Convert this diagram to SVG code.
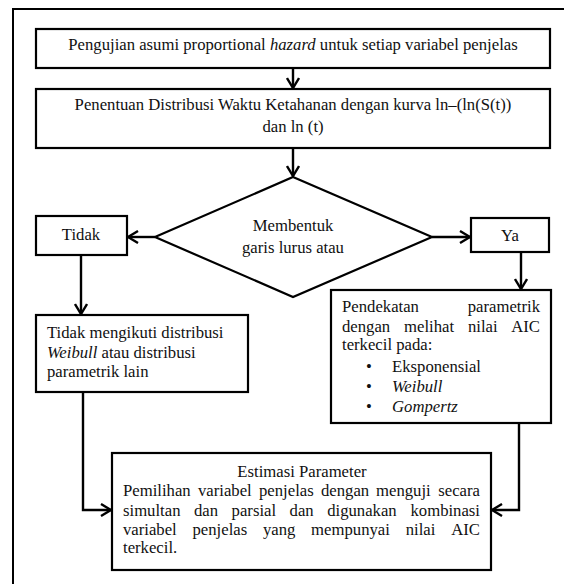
<svg xmlns="http://www.w3.org/2000/svg" width="564" height="584" viewBox="0 0 564 584">
<style>
.box{fill:#fff;stroke:#000;stroke-width:2.2}
.ln{fill:none;stroke:#000;stroke-width:2.4}
text{font-family:"Liberation Serif","Times New Roman",serif;font-size:16.7px;fill:#111}
.c{text-anchor:middle}
.e{text-anchor:end}
.i{font-style:italic}
</style>
<defs>
<marker id="arr" viewBox="0 0 12 14" refX="11" refY="7" markerWidth="12" markerHeight="14" orient="auto" markerUnits="userSpaceOnUse">
<path d="M1,1 L11,7 L1,13" fill="none" stroke="#000" stroke-width="2.4"/>
</marker>
</defs>
<rect width="564" height="584" fill="#fff"/>
<path d="M13,584 V9 H564" fill="none" stroke="#000" stroke-width="2"/>

<g id="connectors">
<path class="ln" d="M293,68 V88" marker-end="url(#arr)"/>
<path class="ln" d="M293,148 V176" marker-end="url(#arr)"/>
<path class="ln" d="M155,237 H128" marker-end="url(#arr)"/>
<path class="ln" d="M432,237 H470" marker-end="url(#arr)"/>
<path class="ln" d="M81,255 V314" marker-end="url(#arr)"/>
<path class="ln" d="M521,252 V289" marker-end="url(#arr)"/>
<path class="ln" d="M83,392 V510 H111" marker-end="url(#arr)"/>
<path class="ln" d="M519,423 V510 H492" marker-end="url(#arr)"/>
</g>

<g id="n1">
<rect class="box" x="36" y="29" width="514" height="39"/>
<text class="c" x="293" y="50">Pengujian asumi proportional <tspan class="i">hazard</tspan> untuk setiap variabel penjelas</text>
</g>

<g id="n2">
<rect class="box" x="36" y="89" width="514" height="59"/>
<text class="c" x="293" y="110">Penentuan Distribusi Waktu Ketahanan dengan kurva ln–(ln(S(t))</text>
<text class="c" x="293" y="132">dan ln (t)</text>
</g>

<g id="decision">
<polygon class="box" points="293,177 432,237 293,297 155,237"/>
<text class="c" x="293" y="231">Membentuk</text>
<text class="c" x="293" y="253">garis lurus atau</text>
</g>

<g id="tidak">
<rect class="box" x="36" y="216" width="91" height="39"/>
<text class="c" x="81" y="240">Tidak</text>
</g>

<g id="ya">
<rect class="box" x="471" y="218" width="78" height="34"/>
<text class="c" x="510" y="241">Ya</text>
</g>

<g id="n-tidak">
<rect class="box" x="36" y="315" width="212" height="77"/>
<text x="47" y="338">Tidak mengikuti distribusi</text>
<text x="47" y="358"><tspan class="i">Weibull</tspan> atau distribusi</text>
<text x="47" y="377">parametrik lain</text>
</g>

<g id="n-ya">
<rect class="box" x="331" y="290" width="220" height="133"/>
<text x="342" y="312">Pendekatan</text>
<text class="e" x="540" y="312">parametrik</text>
<text x="342" y="332">dengan</text>
<text x="404" y="332">melihat</text>
<text x="468" y="332">nilai</text>
<text class="e" x="540" y="332">AIC</text>
<text x="342" y="350">terkecil pada:</text>
<text x="366" y="372">•</text>
<text x="392" y="372">Eksponensial</text>
<text x="366" y="392">•</text>
<text class="i" x="392" y="392">Weibull</text>
<text x="366" y="412">•</text>
<text class="i" x="392" y="412">Gompertz</text>
</g>

<g id="n-estimasi">
<rect class="box" x="112" y="453" width="379" height="117"/>
<text class="c" x="302" y="477">Estimasi Parameter</text>
<text x="123" y="496">Pemilihan</text>
<text x="198" y="496">variabel</text>
<text x="259" y="496">penjelas</text>
<text x="321" y="496">dengan</text>
<text x="376" y="496">menguji</text>
<text class="e" x="480" y="496">secara</text>
<text x="123" y="516">simultan</text>
<text x="194" y="516">dan</text>
<text x="231.6" y="516">parsial</text>
<text x="289.6" y="516">dan</text>
<text x="327.2" y="516">digunakan</text>
<text class="e" x="480" y="516">kombinasi</text>
<text x="123" y="535">variabel</text>
<text x="192.5" y="535">penjelas</text>
<text x="262.9" y="535">yang</text>
<text x="311.1" y="535">mempunyai</text>
<text x="405.7" y="535">nilai</text>
<text class="e" x="480" y="535">AIC</text>
<text x="123" y="553">terkecil.</text>
</g>
</svg>
